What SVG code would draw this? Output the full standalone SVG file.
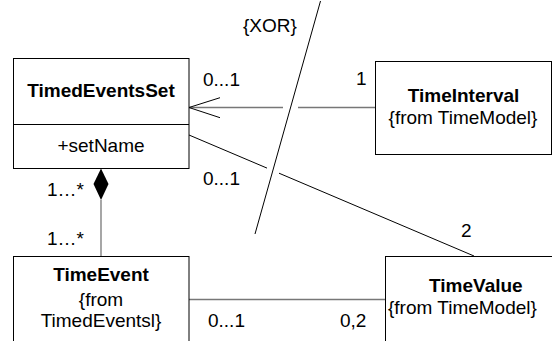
<svg xmlns="http://www.w3.org/2000/svg" width="552" height="341" viewBox="0 0 552 341">
<style>
text{font-family:"Liberation Sans",Arial,sans-serif;font-size:19px;fill:#000}
.b{font-weight:bold}
.c{text-anchor:middle}
.box{fill:#fff;stroke:#000;stroke-width:1}
.ln{fill:none;stroke:#000;stroke-width:1}
.gr{fill:none;stroke:#777;stroke-width:1.3}
</style>
<rect width="552" height="341" fill="#fff"/>
<g id="connectors">
<line class="gr" x1="189" y1="107.5" x2="283" y2="107.5"/>
<line class="gr" x1="298" y1="107.5" x2="375.5" y2="107.5"/>
<polyline class="ln" points="220,97.7 189,107.5 220,117.7"/>
<line class="ln" x1="189" y1="135" x2="267" y2="168.1"/>
<line class="ln" x1="279" y1="173.2" x2="474" y2="256"/>
<line class="ln" x1="320.5" y1="1" x2="255" y2="234" stroke-width="1.3"/>
<line class="gr" x1="101" y1="200" x2="101" y2="256.5" stroke="#555"/>
<polygon points="101,168.5 108.5,184 101,200 93.5,184" fill="#000"/>
<line class="gr" x1="189" y1="299.5" x2="385.5" y2="299.5" stroke="#555"/>
<text x="243" y="32">{XOR}</text>
<text x="203" y="86">0...1</text>
<text x="356" y="85">1</text>
<text x="203" y="185">0...1</text>
<text x="47" y="196">1…*</text>
<text x="47" y="245">1…*</text>
<text x="461" y="237">2</text>
<text x="208" y="327">0...1</text>
<text x="340" y="327">0,2</text>
</g>
<g id="TimedEventsSet">
<rect class="box" x="13.5" y="58.5" width="175.5" height="110"/>
<line class="ln" x1="13.5" y1="124.5" x2="189" y2="124.5"/>
<text class="b c" x="101" y="97">TimedEventsSet</text>
<text class="c" x="101" y="152">+setName</text>
</g>
<g id="TimeInterval">
<rect class="box" x="375.5" y="61.5" width="176" height="93"/>
<text class="b c" x="463.5" y="101.5">TimeInterval</text>
<text class="c" x="463" y="124">{from TimeModel}</text>
</g>
<g id="TimeEvent">
<rect class="box" x="13.5" y="256.5" width="175.5" height="100"/>
<text class="b c" x="101" y="281">TimeEvent</text>
<text class="c" x="101" y="306">{from</text>
<text class="c" x="101" y="327">TimedEventsl}</text>
</g>
<g id="TimeValue">
<rect class="box" x="385.5" y="256.5" width="200" height="100"/>
<text class="b" x="429" y="292">TimeValue</text>
<text x="388" y="313.5">{from TimeModel}</text>
</g>
</svg>
